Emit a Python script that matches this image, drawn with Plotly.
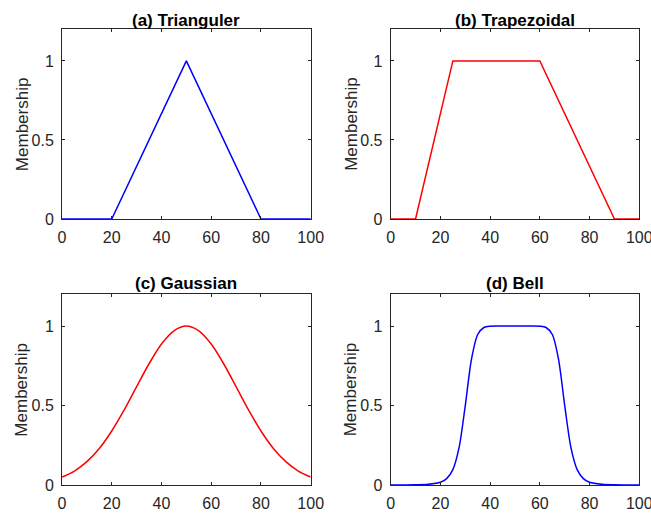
import plotly.graph_objects as go

# Triangular membership (breakpoints)
tri_x = [0, 20, 50, 80, 100]
tri_y = [0, 0, 1, 0, 0]

# Trapezoidal membership
trap_x = [0, 10, 25, 60, 90, 100]
trap_y = [0, 0, 1, 1, 0, 0]

# Gaussian membership
gauss_x = [0, 5, 10, 15, 20, 25, 30, 35, 40, 45, 50, 55, 60, 65, 70, 75, 80, 85, 90, 95, 100]
gauss_y = [0.05, 0.088, 0.147, 0.23, 0.34, 0.472, 0.619, 0.763, 0.887, 0.97, 1.0,
           0.97, 0.887, 0.763, 0.619, 0.472, 0.34, 0.23, 0.147, 0.088, 0.05]

# Bell membership
bell_x = [0, 5, 10, 15, 20, 22.5, 25, 27.5, 30, 32.5, 35, 37.5, 40, 45, 50,
          55, 60, 62.5, 65, 67.5, 70, 72.5, 75, 77.5, 80, 85, 90, 95, 100]
bell_y = [0.0, 0.0003, 0.001, 0.004, 0.017, 0.04, 0.097, 0.235, 0.5, 0.792, 0.947, 0.991, 0.999, 1.0, 1.0,
          1.0, 0.999, 0.991, 0.947, 0.792, 0.5, 0.235, 0.097, 0.04, 0.017, 0.004, 0.001, 0.0003, 0.0]

titles = ["(a) Trianguler", "(b) Trapezoidal", "(c) Gaussian", "(d) Bell"]
y_title = "Membership"
x_ticks = [0, 20, 40, 60, 80, 100]
y_ticks = [0, 0.5, 1]
y_tick_text = ["0", "0.5", "1"]

BLUE = "#0000FF"
RED = "#FF0000"
AX = "#262626"

W, H = 651, 513
# pixel boxes: (left, right, top, bottom)
boxes = [(62, 310.7, 29.3, 219), (390.7, 639.3, 29.3, 219),
         (62, 310.7, 294.3, 485), (390.7, 639.3, 294.3, 485)]

fig = go.Figure()
series = [(tri_x, tri_y, BLUE, "linear"), (trap_x, trap_y, RED, "linear"),
          (gauss_x, gauss_y, RED, "spline"), (bell_x, bell_y, BLUE, "spline")]

font = "Liberation Sans, Arial, sans-serif"
for i, ((xs, ys, col, shape), (l, r, t, b)) in enumerate(zip(series, boxes)):
    n = "" if i == 0 else str(i + 1)
    fig.add_trace(go.Scatter(x=xs, y=ys, mode="lines",
                             line=dict(color=col, width=1.5, shape=shape, smoothing=0.8),
                             xaxis="x" + n, yaxis="y" + n, showlegend=False))
    common = dict(showgrid=False, zeroline=False, showline=True, linecolor=AX, linewidth=1,
                  mirror="ticks", ticks="inside", ticklen=3, tickcolor=AX, automargin=False,
                  ticklabeloverflow="allow",
                  tickfont=dict(family=font, size=16, color=AX))
    fig.layout["xaxis" + n] = dict(domain=[l / W, r / W], range=[0, 100],
                                   tickvals=x_ticks, anchor="y" + n,
                                   ticklabelstandoff=4, **common)
    fig.layout["yaxis" + n] = dict(domain=[1 - b / H, 1 - t / H], range=[0, 1.2],
                                   tickvals=y_ticks, ticktext=y_tick_text, anchor="x" + n,
                                   ticklabelstandoff=4, **common)
    # y-axis title
    fig.add_annotation(text=y_title, x=(l - 40) / W, y=1 - (t + b) / 2 / H,
                       xref="paper", yref="paper", xanchor="center", yanchor="middle",
                       textangle=-90, showarrow=False,
                       font=dict(family=font, size=17, color=AX))
    ty = 20.3 if i < 2 else 283
    fig.add_annotation(text="<b>" + titles[i] + "</b>", x=(l + r) / 2 / W, y=1 - ty / H,
                       xref="paper", yref="paper", xanchor="center", yanchor="middle",
                       showarrow=False, font=dict(family=font, size=17, color="#000000"))

fig.update_layout(width=W, height=H, margin=dict(l=0, r=0, t=0, b=0),
                  paper_bgcolor="white", plot_bgcolor="white")
fig.write_html("out.html")
